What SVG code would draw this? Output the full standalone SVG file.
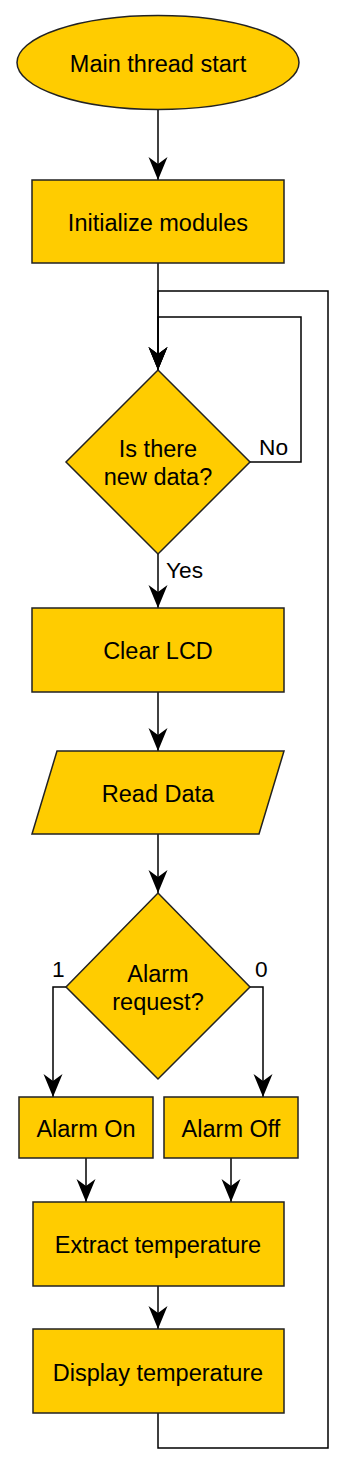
<svg xmlns="http://www.w3.org/2000/svg" width="344" height="1466" viewBox="0 0 344 1466">
<style>
.node{fill:#FFCC00;stroke:#222;stroke-width:1.5}
.t{font-family:"Liberation Sans",Arial,sans-serif;font-size:23.5px;fill:#000;text-anchor:middle}
.lbl{font-family:"Liberation Sans",Arial,sans-serif;font-size:22.7px;fill:#000}
.c{fill:none;stroke:#000;stroke-width:1.5}
.a{marker-end:url(#arr)}
</style>
<defs>
<marker id="arr" markerUnits="userSpaceOnUse" markerWidth="26" markerHeight="22" viewBox="-24 -11 26 22" refX="0" refY="0" orient="auto">
<path d="M0,0 L-23,-9.5 L-16,0 L-23,9.5 Z" fill="#000"/>
</marker>
</defs>
<rect width="344" height="1466" fill="#fff"/>
<g id="connectors">
<path class="c a" d="M158,110 V180"/>
<path class="c a" d="M158,263 V370"/>
<path class="c a" d="M250,462 H301 V317 H158 V370"/>
<path class="c a" d="M158,554 V608"/>
<path class="c a" d="M158,692 V751"/>
<path class="c a" d="M158,834 V893"/>
<path class="c a" d="M66,987 H53 V1097"/>
<path class="c a" d="M250,987 H263 V1097"/>
<path class="c a" d="M86,1158 V1202"/>
<path class="c a" d="M231,1158 V1202"/>
<path class="c a" d="M158,1286 V1329"/>
<path class="c a" d="M158,1413 V1448 H328 V291 H158 V370"/>
<text class="lbl" x="259" y="455">No</text>
<text class="lbl" x="166" y="578">Yes</text>
<text class="lbl" x="52" y="977">1</text>
<text class="lbl" x="255" y="977">0</text>
</g>
<g id="start">
<ellipse class="node" cx="158" cy="62.5" rx="141" ry="47"/>
<text class="t" x="158" y="72">Main thread start</text>
</g>
<g id="init">
<rect class="node" x="32" y="180" width="252" height="83"/>
<text class="t" x="158" y="230.5">Initialize modules</text>
</g>
<g id="newdata">
<polygon class="node" points="158,370 250,462 158,554 66,462"/>
<text class="t" x="158" y="457">Is there</text>
<text class="t" x="158" y="485">new data?</text>
</g>
<g id="clearlcd">
<rect class="node" x="32" y="608" width="252" height="84"/>
<text class="t" x="158" y="659">Clear LCD</text>
</g>
<g id="readdata">
<polygon class="node" points="57,751 284,751 259,834 32,834"/>
<text class="t" x="158" y="801.5">Read Data</text>
</g>
<g id="alarmreq">
<polygon class="node" points="158,893 250,987 158,1079 66,987"/>
<text class="t" x="158" y="982">Alarm</text>
<text class="t" x="158" y="1010">request?</text>
</g>
<g id="alarmon">
<rect class="node" x="19" y="1097" width="134" height="61"/>
<text class="t" x="86" y="1137">Alarm On</text>
</g>
<g id="alarmoff">
<rect class="node" x="164" y="1097" width="134" height="61"/>
<text class="t" x="231" y="1137">Alarm Off</text>
</g>
<g id="extract">
<rect class="node" x="33" y="1202" width="251" height="84"/>
<text class="t" x="158" y="1252.5">Extract temperature</text>
</g>
<g id="display">
<rect class="node" x="33" y="1329" width="251" height="84"/>
<text class="t" x="158" y="1380.5">Display temperature</text>
</g>
</svg>
